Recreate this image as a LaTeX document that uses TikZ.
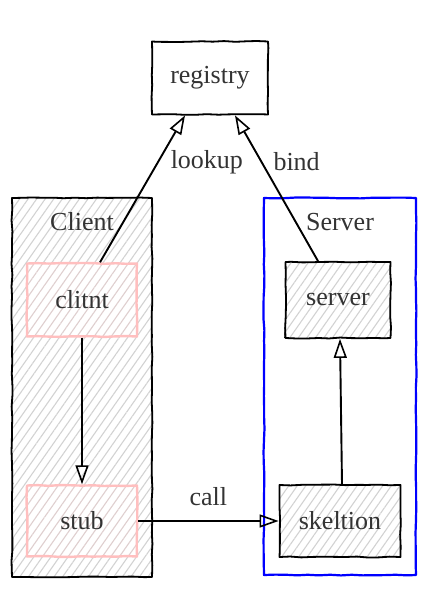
\documentclass[tikz,border=0pt]{standalone}
\usepackage{fontspec}
\setmainfont{Liberation Serif}
\usepackage{tikz}
\usetikzlibrary{decorations.pathmorphing}
\usetikzlibrary{arrows.meta,patterns.meta}

\tikzset{
  rough/.style={decorate, decoration={random steps, segment length=11pt, amplitude=0.5pt}, line join=round},
  retrace/.style={postaction={draw=#1, line width=0.8pt, decorate, decoration={random steps, segment length=17pt, amplitude=1pt}}},
  hatch/.style={pattern={Lines[angle=55, distance=7pt, line width=1.1pt]}, pattern color=#1},
  box/.style={rough, draw=black, line width=1.8pt, text=black!80, inner sep=0pt},
  frametitle/.style={text=black!80, inner sep=0pt},
  link/.style={line width=1.9pt, -{Triangle[open, length=19pt, width=13pt, line width=1.6pt]}},
  linklabel/.style={text=black!80, inner sep=0pt}
}

\begin{document}
\pgfmathsetseed{11}
\begin{tikzpicture}[x=1pt, y=-1pt, font=\fontsize{26}{30}\selectfont]
    \useasboundingbox (0,0) rectangle (437,593);

    % --- CLIENT SIDE ---
    \node[box, retrace=black, hatch=gray!35, minimum width=140pt, minimum height=379pt] (client) at (82,387.5) {};
    \node[frametitle] (clienttitle) at (82,222) {Client};
    \node[box, draw=pink, retrace=pink, line width=2.4pt, preaction={fill=white}, hatch=pink!50!gray!50, minimum width=110pt, minimum height=73pt] (clitnt) at (82,300) {clitnt};
    \node[box, draw=pink, retrace=pink, line width=2.4pt, preaction={fill=white}, hatch=pink!50!gray!50, minimum width=110pt, minimum height=71pt] (stub) at (82,521) {stub};

    % --- SERVER SIDE ---
    \node[box, draw=blue, retrace=blue, line width=2.2pt, minimum width=152pt, minimum height=377pt] (serverside) at (340,386.5) {};
    \node[frametitle] (servertitle) at (340,222) {Server};
    \node[box, retrace=black, hatch=gray!35, minimum width=105pt, minimum height=76pt] (server) at (338,300) {server};
    \node[box, retrace=black, hatch=gray!35, minimum width=121pt, minimum height=72pt] (skeltion) at (340,521) {skeltion};

    % --- REGISTRY ---
    \node[box, retrace=black, minimum width=116pt, minimum height=73pt] (registry) at (210,78) {registry};

    % --- ARROWS ---
    \draw[link] ([xshift=18pt]clitnt.north) -- ([xshift=-25pt]registry.south)
        node[linklabel, pos=0.68, anchor=west, xshift=12pt] (lookup) {lookup};
    \draw[link] ([xshift=-20pt]server.north) -- ([xshift=25pt]registry.south)
        node[linklabel, pos=0.68, anchor=west, xshift=11pt] (bind) {bind};
    \draw[link] (clitnt.south) -- (stub.north);
    \draw[link] ([xshift=2pt]skeltion.north) -- ([xshift=2pt]server.south);
    \draw[link] (stub.east) -- (skeltion.west)
        node[linklabel, midway, above=14pt] (call) {call};
\end{tikzpicture}
\end{document}
